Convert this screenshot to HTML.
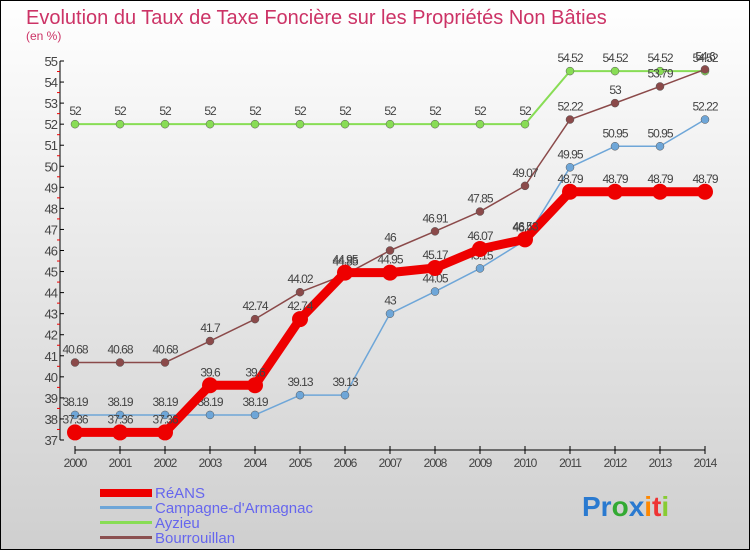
<!DOCTYPE html>
<html><head><meta charset="utf-8"><style>
body{margin:0}
svg{display:block;font-family:"Liberation Sans",sans-serif}
</style></head><body>
<svg id="c" width="750" height="550" xmlns="http://www.w3.org/2000/svg">
<defs><linearGradient id="bg" x1="0" y1="0" x2="0" y2="1"><stop offset="0" stop-color="#ffffff"/><stop offset="1" stop-color="#cfcfcf"/></linearGradient></defs>
<rect x="0.5" y="0.5" width="749" height="549" fill="url(#bg)" stroke="#000"/>
<text x="26" y="24" font-size="20" fill="#cc3366">Evolution du Taux de Taxe Foncière sur les Propriétés Non Bâties</text>
<text x="26" y="40" font-size="12" fill="#cc3366">(en %)</text>
<g id="axes"></g><g id="series"></g>
<g font-size="15" fill="#6666ee">
<rect x="100" y="489" width="52" height="8" fill="#ee0000"/>
<text x="155" y="498">RéANS</text>
<rect x="100" y="506" width="52" height="3" fill="#6ea6d8"/>
<text x="155" y="513">Campagne-d'Armagnac</text>
<rect x="100" y="521" width="52" height="3" fill="#88dd55"/>
<text x="155" y="528">Ayzieu</text>
<rect x="100" y="536" width="52" height="3" fill="#8b5050"/>
<text x="155" y="543">Bourrouillan</text>
</g>
<g font-size="28" font-weight="bold">
<text x="582" y="516"><tspan fill="#2a7ad0">Pr</tspan><tspan fill="#33aa33">o</tspan><tspan fill="#2a7ad0">x</tspan><tspan fill="#ff8800">i</tspan><tspan fill="#ee3333">t</tspan><tspan fill="#88cc33">i</tspan></text>
</g>
</svg>
<script>
const years=[2000,2001,2002,2003,2004,2005,2006,2007,2008,2009,2010,2011,2012,2013,2014];
const reans=[37.36,37.36,37.36,39.6,39.6,42.74,44.95,44.95,45.17,46.07,46.53,48.79,48.79,48.79,48.79];
const campagne=[38.19,38.19,38.19,38.19,38.19,39.13,39.13,43,44.05,45.15,46.48,49.95,50.95,50.95,52.22];
const ayzieu=[52,52,52,52,52,52,52,52,52,52,52,54.52,54.52,54.52,54.52];
const bourrouillan=[40.68,40.68,40.68,41.7,42.74,44.02,44.85,46,46.91,47.85,49.07,52.22,53,53.79,54.6];
const yTicks=[37,38,39,40,41,42,43,44,45,46,47,48,49,50,51,52,53,54,55];
const NS="http://www.w3.org/2000/svg";
const X=i=>75+i*45;
const Y=v=>440-(v-37)*(379/18);
function el(t,a,p){const e=document.createElementNS(NS,t);for(const k in a)e.setAttribute(k,a[k]);p.appendChild(e);return e;}
const ax=document.getElementById('axes');
const ya=el('line',{x1:60,y1:Y(55),x2:60,y2:Y(37),stroke:'#000','stroke-width':1},ax);


yTicks.forEach(v=>{
 el('line',{x1:60,x2:64,y1:Y(v),y2:Y(v),stroke:'#000'},ax);
 if(v<55)el('line',{x1:57,x2:60,y1:Y(v+0.5),y2:Y(v+0.5),stroke:'#e00'},ax);
 const t=el('text',{x:57,y:Y(v)+5,'text-anchor':'end','font-size':13,fill:'#444','letter-spacing':'-1'},ax);
 t.textContent=v;
 
 
});
const xa=el('line',{x1:X(0),y1:450,x2:X(14),y2:450,stroke:'#000'},ax);


years.forEach((y,i)=>{
 el('line',{x1:X(i),x2:X(i),y1:446,y2:454,stroke:'#000'},ax);
 const t=el('text',{x:X(i),y:467,'text-anchor':'middle','font-size':12,fill:'#444','letter-spacing':'-1'},ax);
 t.textContent=y;
 
 
});
const sg=document.getElementById('series');
function draw(name,data,color,w,r,labelColor){
 const g=el('g',{},sg);
 
 
 el('polyline',{points:data.map((v,i)=>X(i)+','+Y(v)).join(' '),fill:'none',stroke:color,'stroke-width':w,'stroke-linejoin':'round'},g);
 data.forEach((v,i)=>{
  const c=el('circle',{cx:X(i),cy:Y(v),r:r,fill:color,stroke:r>4?'none':'#555','stroke-width':0.5},g);
  
  
  const t=el('text',{x:X(i),y:Y(v)-9,'text-anchor':'middle','font-size':12,fill:'#444','letter-spacing':'-1'},g);
  t.textContent=v;
  
  
 });
}
draw('ayzieu',ayzieu,'#88dd55',2,4);
draw('bourrouillan',bourrouillan,'#8b4a4a',1.5,4);
draw('campagne',campagne,'#6ea6d8',1.5,4);
draw('reans',reans,'#ee0000',9,8);
</script>
</body></html>
